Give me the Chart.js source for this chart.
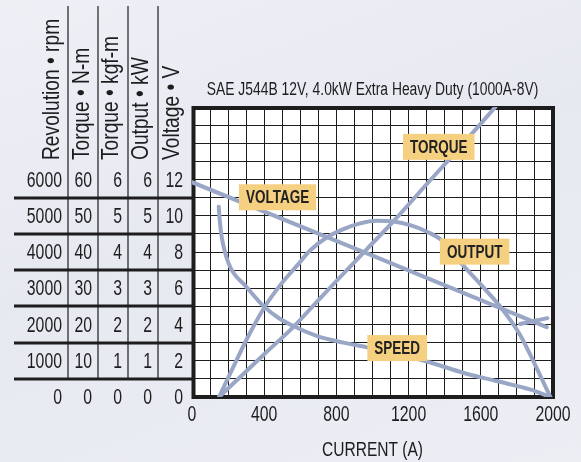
<!DOCTYPE html>
<html>
<head>
<meta charset="utf-8">
<script src="https://cdn.jsdelivr.net/npm/chart.js@4.4.1/dist/chart.umd.min.js"></script>
<style>
  html, body { margin: 0; padding: 0; }
  body {
    width: 581px; height: 462px; overflow: hidden;
    background: linear-gradient(160deg, #eff0f6 0%, #e7e9f1 45%, #eceef4 100%);
  }
  canvas { display: block; }
</style>
</head>
<body>
<canvas id="chart" width="581" height="462"></canvas>
<script>
const FONT = "'Liberation Sans', Arial, sans-serif";
const INK = '#1d1d1d';
const CURVE = '#99a6c6';

const chartTitle = 'SAE J544B 12V, 4.0kW Extra Heavy Duty (1000A-8V)';
const xTitle = 'CURRENT (A)';
const xTickLabels = [0, 400, 800, 1200, 1600, 2000];

// left table, one column per unit
const tableTitles = ['Revolution • rpm', 'Torque • N-m', 'Torque • kgf-m', 'Output • kW', 'Voltage • V'];
const rpmTicks = [0, 1000, 2000, 3000, 4000, 5000, 6000];
const torqueNmTicks = [0, 10, 20, 30, 40, 50, 60];
const torqueKgfTicks = [0, 1, 2, 3, 4, 5, 6];
const outputTicks = [0, 1, 2, 3, 4, 5, 6];
const voltageTicks = [0, 2, 4, 6, 8, 10, 12];

// curves (current in A)
const speedCurrent = [148, 155, 165, 180, 200, 230, 290, 398, 480, 565, 694, 839, 969, 1150, 1311, 1502, 1687, 1872, 1985];
const speedRpm = [5250, 4800, 4400, 4050, 3720, 3420, 3100, 2500, 2180, 1950, 1680, 1500, 1370, 1155, 965, 670, 440, 210, 0];

const torqueCurrent = [150, 400, 565, 694, 800, 969, 1117, 1291, 1431, 1681];
const torqueNm = [0, 11.8, 19.5, 26.4, 32, 40.8, 48.5, 58.2, 65.9, 80];

const outputCurrent = [150, 231, 306, 398, 491, 583, 654, 746, 839, 931, 1024, 1117, 1209, 1302, 1376, 1502, 1613, 1715, 1817, 1891, 1985];
const outputKw = [0, 0.85, 1.62, 2.45, 3.1, 3.63, 4.04, 4.4, 4.63, 4.79, 4.86, 4.84, 4.74, 4.56, 4.35, 3.63, 3.03, 2.45, 1.72, 0.99, 0];

const voltageCurrent = [0, 1000, 1965];
const voltageV = [11.85, 7.8, 3.85];

const stubCurrent = [1817, 1969];
const stubV = [4.03, 4.35];

// curve tags: text, current, value, axis
const tagText = ['TORQUE', 'VOLTAGE', 'OUTPUT', 'SPEED'];
const tagCurrent = [1367, 474, 1566, 1137];
const tagValue = [69, 11.02, 4.01, 1350];
const tagAxis = ['yNm', 'yV', 'yKw', 'yRpm'];

function pts(xs, ys) {
    return xs.map((x, i) => ({ x, y: ys[i] }));
}

function curve(data, axis, extra) {
    return Object.assign({
        data, yAxisID: axis,
        borderColor: CURVE, borderWidth: 4, pointRadius: 0,
        borderCapStyle: 'round', borderJoinStyle: 'round', fill: false
    }, extra || {});
}

// the reference uses a condensed face: squeeze Liberation Sans sideways
function narrowText(ctx, text, x, y, o) {
    ctx.save();
    ctx.translate(x, y);
    if (o.rotate) ctx.rotate(o.rotate);
    ctx.scale(o.squeeze, 1);
    ctx.font = `${o.bold ? 'bold ' : ''}${o.size}px ${FONT}`;
    ctx.fillStyle = o.color || INK;
    ctx.textAlign = o.align || 'center';
    ctx.textBaseline = 'middle';
    ctx.fillText(text, 0, 0);
    ctx.restore();
}

const columns = [
    { title: tableTitles[0], ticks: rpmTicks, axis: 'yRpm' },
    { title: tableTitles[1], ticks: torqueNmTicks, axis: 'yNm' },
    { title: tableTitles[2], ticks: torqueKgfTicks, axis: 'yKgf' },
    { title: tableTitles[3], ticks: outputTicks, axis: 'yKw' },
    { title: tableTitles[4], ticks: voltageTicks, axis: 'yV' }
];

const framePlugin = {
    id: 'frame',
    beforeDraw(chart) {
        const { ctx, chartArea: a } = chart;
        ctx.save();
        ctx.fillStyle = '#ffffff';
        ctx.fillRect(a.left, a.top, a.width, a.height);
        ctx.restore();
    },
    beforeDatasetsDraw(chart) {
        const { ctx, chartArea: a } = chart;
        ctx.save();
        ctx.strokeStyle = INK;
        ctx.lineWidth = 4;
        ctx.strokeRect(a.left + 1.5, a.top + 1, a.width - 1.5, a.height - 1);
        ctx.restore();
    },
    afterDraw(chart) {
        const { ctx, chartArea: a } = chart;
        const xs = chart.scales.x;
        narrowText(ctx, chartTitle, (a.left + a.right) / 2, a.top - 17, { size: 18, squeeze: 0.77 });
        xTickLabels.forEach(v => {
            narrowText(ctx, String(v), xs.getPixelForValue(v), a.bottom + 18, { size: 22, squeeze: 0.72 });
        });
        narrowText(ctx, xTitle, (a.left + a.right) / 2, a.bottom + 53, { size: 21, squeeze: 0.74 });
    }
};

const tagPlugin = {
    id: 'tags',
    afterDatasetsDraw(chart) {
        const { ctx } = chart;
        const xs = chart.scales.x;
        const squeeze = 0.75;
        ctx.save();
        ctx.font = `bold 18px ${FONT}`;
        tagText.forEach((t, i) => {
            const cx = xs.getPixelForValue(tagCurrent[i]);
            const cy = chart.scales[tagAxis[i]].getPixelForValue(tagValue[i]);
            const w = ctx.measureText(t).width * squeeze + 14;
            const h = 26;
            ctx.fillStyle = '#f6d081';
            ctx.fillRect(cx - w / 2, cy - h / 2, w, h);
            narrowText(ctx, t, cx, cy + 1, { size: 18, squeeze, bold: true, color: '#222222' });
        });
        ctx.restore();
    }
};

const tablePlugin = {
    id: 'unitTable',
    afterDraw(chart) {
        const { ctx, chartArea: a } = chart;
        const yV = chart.scales.yV;
        const edges = [14, 68, 98, 128, 158, a.left];
        const titleX = [52, 82, 111.5, 141.5, 172.5];
        ctx.save();
        ctx.strokeStyle = INK;

        // thick row lines half way between the labels
        ctx.lineWidth = 3;
        for (let i = 0; i < voltageTicks.length - 1; i++) {
            const y = Math.round(yV.getPixelForValue((voltageTicks[i] + voltageTicks[i + 1]) / 2));
            ctx.beginPath();
            ctx.moveTo(edges[0], y);
            ctx.lineTo(a.left, y);
            ctx.stroke();
        }

        // column separators
        const lastRow = yV.getPixelForValue((voltageTicks[0] + voltageTicks[1]) / 2);
        ctx.lineWidth = 1.2;
        for (let i = 1; i < 5; i++) {
            ctx.beginPath();
            ctx.moveTo(edges[i], 6);
            ctx.lineTo(edges[i], lastRow);
            ctx.stroke();
        }
        ctx.restore();

        columns.forEach((col, i) => {
            const scale = chart.scales[col.axis];
            col.ticks.forEach(t => {
                narrowText(ctx, String(t), edges[i + 1] - (i === 4 ? 9 : 6), scale.getPixelForValue(t) + 1,
                    { size: 22, squeeze: 0.72, align: 'right' });
            });
            narrowText(ctx, col.title, titleX[i], 160,
                { size: 24, squeeze: 0.8, align: 'left', rotate: -Math.PI / 2 });
        });
    }
};

const hiddenAxis = (max) => ({ type: 'linear', display: false, position: 'left', min: 0, max });

new Chart(document.getElementById('chart'), {
    type: 'line',
    data: {
        datasets: [
            curve(pts(voltageCurrent, voltageV), 'yV'),
            curve(pts(stubCurrent, stubV), 'yV'),
            curve(pts(torqueCurrent, torqueNm), 'yNm', { cubicInterpolationMode: 'monotone' }),
            curve(pts(outputCurrent, outputKw), 'yKw', { cubicInterpolationMode: 'monotone' }),
            curve(pts(speedCurrent, speedRpm), 'yRpm', { cubicInterpolationMode: 'monotone' })
        ]
    },
    options: {
        responsive: false,
        animation: false,
        devicePixelRatio: 1,
        layout: { padding: { left: 192, top: 107, right: 28, bottom: 0 } },
        plugins: { legend: { display: false }, tooltip: { enabled: false } },
        scales: {
            x: {
                type: 'linear', position: 'bottom', min: 0, max: 2000,
                grid: { color: INK, lineWidth: 1, drawTicks: false },
                border: { display: false },
                ticks: { stepSize: 100, autoSkip: false, display: false },
                afterFit: s => { s.height = 65; }
            },
            yV: {
                type: 'linear', position: 'left', min: 0, max: 16,
                grid: { color: INK, lineWidth: 1, drawTicks: false },
                border: { display: false },
                ticks: { stepSize: 1, display: false },
                afterFit: s => { s.width = 0; }
            },
            yRpm: hiddenAxis(8000),
            yNm: hiddenAxis(80),
            yKgf: hiddenAxis(8),
            yKw: hiddenAxis(8)
        }
    },
    plugins: [framePlugin, tagPlugin, tablePlugin]
});
</script>
</body>
</html>
